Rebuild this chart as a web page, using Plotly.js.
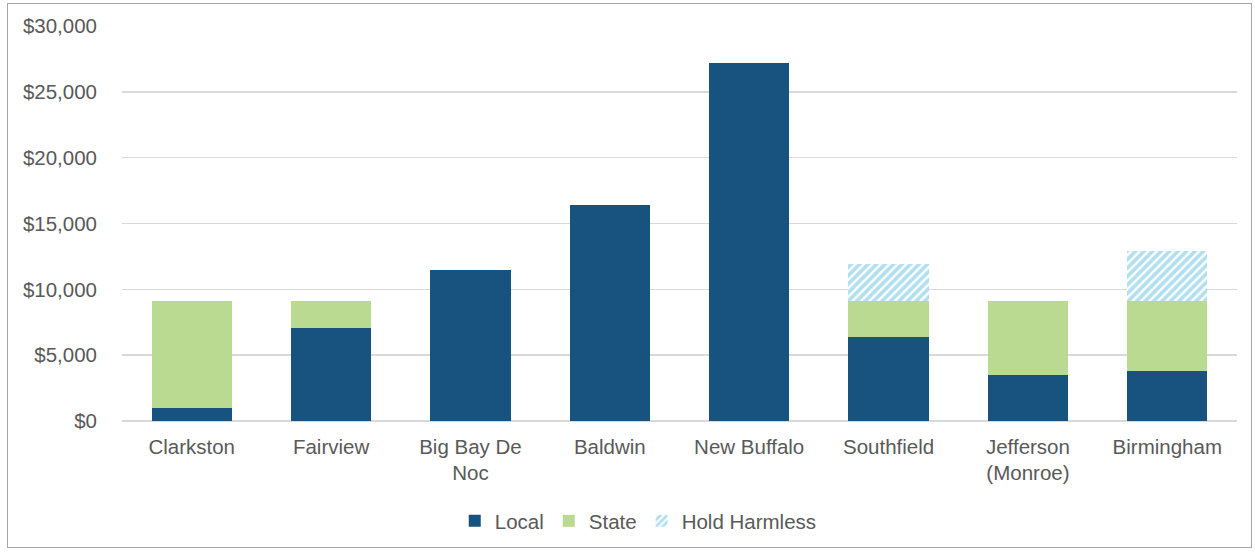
<!DOCTYPE html>
<html>
<head>
<meta charset="utf-8">
<script src="https://cdn.plot.ly/plotly-3.0.1.min.js"></script>
<style>
html,body{margin:0;padding:0;background:#fff;}
#frame{position:absolute;left:7px;top:3px;width:1245px;height:545px;border:1.5px solid #a6a6a6;box-sizing:border-box;}
#chart{position:absolute;left:0;top:0;width:1255px;height:552px;}
</style>
</head>
<body>
<div id="frame"></div>
<div id="chart"></div>
<script>
const categories = ["Clarkston","Fairview","Big Bay De<br>Noc","Baldwin","New Buffalo","Southfield","Jefferson<br>(Monroe)","Birmingham"];
const localValues = [1000, 7050, 11500, 16400, 27200, 6400, 3460, 3770];
const stateValues = [8100, 2050, 0, 0, 0, 2700, 5640, 5330];
const holdHarmlessValues = [0, 0, 0, 0, 0, 2800, 0, 3780];
const yTickVals = [0, 5000, 10000, 15000, 20000, 25000, 30000];
const yTickText = ["$0","$5,000","$10,000","$15,000","$20,000","$25,000","$30,000"];

const traces = [
  {type:'bar', name:'Local', x:categories, y:localValues, marker:{color:'#17537E'}},
  {type:'bar', name:'State', x:categories, y:stateValues, marker:{color:'#BBDA91'}},
  {type:'bar', name:'Hold Harmless', x:categories, y:holdHarmlessValues,
   marker:{color:'#ffffff', pattern:{shape:'/', fgcolor:'#62BFE2', bgcolor:'#ffffff', size:6, solidity:0.6, fillmode:'overlay'}}}
];

const layout = {
  width:1255, height:552,
  paper_bgcolor:'rgba(0,0,0,0)', plot_bgcolor:'rgba(0,0,0,0)',
  barmode:'stack', bargap:0.425,
  margin:{l:122, r:18, t:26, b:130},
  font:{family:'Liberation Sans, Arial, sans-serif', size:20, color:'#595959'},
  showlegend:true,
  legend:{orientation:'h', x:0.463, xanchor:'center', y:-0.25, yanchor:'middle', font:{size:20.5, color:'#595959'}, traceorder:'normal', itemwidth:30},
  xaxis:{tickfont:{size:20.5, color:'#595959'}, showgrid:false, showline:false, ticks:'', ticklabelstandoff:11},
  yaxis:{range:[0,30000], tickvals:yTickVals, ticktext:yTickText, tickfont:{size:20.5, color:'#595959'},
         showgrid:true, gridcolor:'#d9d9d9', gridwidth:1.5, zeroline:true, zerolinecolor:'#d9d9d9', zerolinewidth:1.5,
         showline:false, ticks:'', ticklabelstandoff:24}
};

Plotly.newPlot('chart', traces, layout, {displayModeBar:false, staticPlot:true});
</script>
</body>
</html>
